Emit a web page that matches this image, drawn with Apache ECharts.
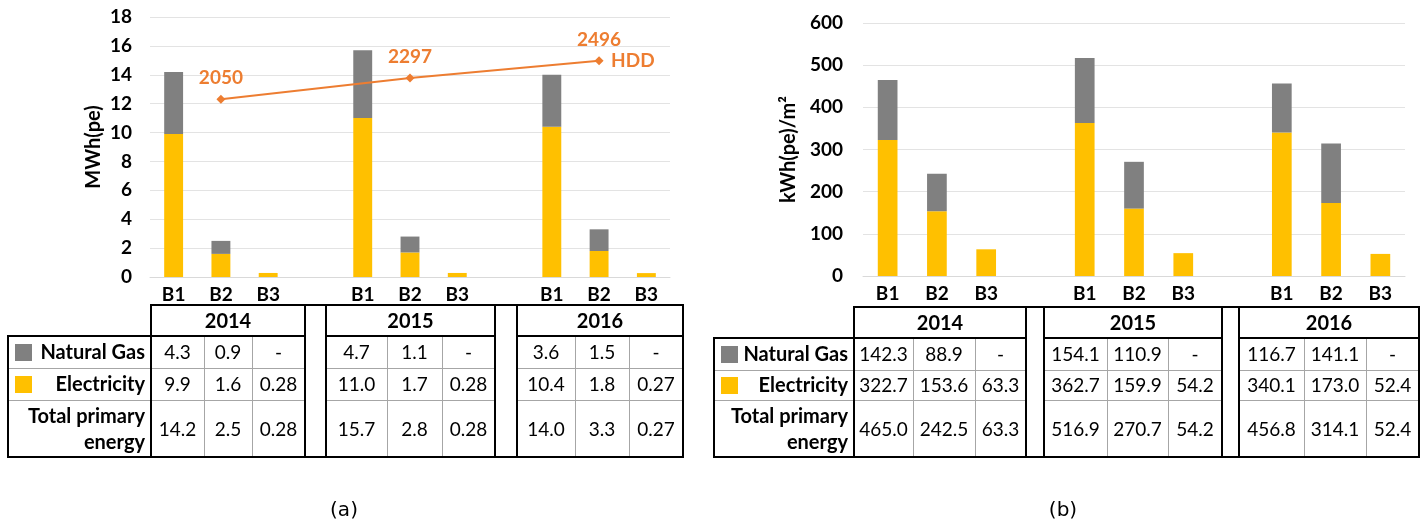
<!DOCTYPE html>
<html>
<head>
<meta charset="utf-8">
<script src="https://cdn.jsdelivr.net/npm/echarts@6/dist/echarts.min.js"></script>
<style>
  html, body { margin: 0; padding: 0; background: #fff; }
  #main { width: 1426px; height: 525px; }
</style>
</head>
<body>
<div id="main"></div>
<script>
// data
const categories = ['B1', 'B2', 'B3', '', 'B1', 'B2', 'B3', '', 'B1', 'B2', 'B3'];
const years = ['2014', '2015', '2016'];

// (a) MWh(pe), per year: B1, B2, B3
const gasA = [4.3, 0.9, null, 4.7, 1.1, null, 3.6, 1.5, null];
const elecA = [9.9, 1.6, 0.28, 11.0, 1.7, 0.28, 10.4, 1.8, 0.27];
const totalA = [14.2, 2.5, 0.28, 15.7, 2.8, 0.28, 14.0, 3.3, 0.27];
const hdd = [2050, 2297, 2496];

// (b) kWh(pe)/m2
const gasB = [142.3, 88.9, null, 154.1, 110.9, null, 116.7, 141.1, null];
const elecB = [322.7, 153.6, 63.3, 362.7, 159.9, 54.2, 340.1, 173.0, 52.4];
const totalB = [465.0, 242.5, 63.3, 516.9, 270.7, 54.2, 456.8, 314.1, 52.4];

const YELLOW = '#FFC000', GREY = '#808080', ORANGE = '#ED7D31';

// put the 9 values onto the 11 category slots (empty slot between years)
function spread(vals) {
    let out = [];
    for (let g = 0; g < 3; g++) {
        out = out.concat(vals.slice(g * 3, g * 3 + 3));
        if (g < 2) out.push(null);
    }
    return out;
}
function hddData() {
    return spread([null, hdd[0], null, null, hdd[1], null, null, hdd[2], null]);
}
// one decimal, two when the value has a second one (0.28)
function fmt(v) {
    if (v == null) return '-';
    return v.toFixed(Math.round(v * 100) % 10 !== 0 ? 2 : 1);
}

// table layout (pixel positions of the table under each panel)
const tableA = { labelLeft: 8, boxes: [[151, 204, 252, 305], [326, 387, 442, 495], [517, 575, 629, 683]],
    top: 305, head: 336, r1: 368, r2: 400, bottom: 457 };
const tableB = { labelLeft: 714, boxes: [[854, 913, 975, 1026], [1044, 1107, 1168, 1222], [1239, 1304, 1366, 1419]],
    top: 307, head: 338, r1: 370, r2: 400, bottom: 457 };

function buildTable(t, gas, elec, total) {
    let els = [];
    const thick = { stroke: '#000', lineWidth: 2 };
    const thin = { stroke: '#a6a6a6', lineWidth: 1 };
    const line = (x1, y1, x2, y2, st) => els.push({ type: 'line', silent: true, z: 10,
        shape: { x1: x1, y1: y1, x2: x2, y2: y2 }, style: st });
    const text = (x, y, s, bold, align) => els.push({ type: 'text', silent: true, z: 11, x: x, y: y,
        style: { text: s, fill: '#000', font: (bold ? 'bold 20px' : '19px') + ' Lato',
            align: align || 'center', verticalAlign: 'middle', lineHeight: 26 } });
    const first = t.boxes[0][0], last = t.boxes[2][3];
    const rows = [t.head, t.r1, t.r2, t.bottom];

    // thin inner lines
    line(t.labelLeft, t.r1 + 0.5, first, t.r1 + 0.5, thin);
    line(t.labelLeft, t.r2 + 0.5, first, t.r2 + 0.5, thin);
    t.boxes.forEach(b => {
        line(b[0], t.r1 + 0.5, b[3], t.r1 + 0.5, thin);
        line(b[0], t.r2 + 0.5, b[3], t.r2 + 0.5, thin);
        line(b[1] + 0.5, t.head, b[1] + 0.5, t.bottom, thin);
        line(b[2] + 0.5, t.head, b[2] + 0.5, t.bottom, thin);
    });
    // thick borders
    line(first - 1, t.top, last + 1, t.top, thick);
    line(t.labelLeft - 1, t.bottom, last + 1, t.bottom, thick);
    line(t.labelLeft, t.head, t.labelLeft, t.bottom, thick);
    line(t.labelLeft - 1, t.head, first, t.head, thick);
    t.boxes.forEach((b, g) => {
        line(b[0], t.top, b[0], t.bottom, thick);
        line(b[3], t.top, b[3], t.bottom, thick);
        line(b[0], t.head, b[3], t.head, thick);
        text((b[0] + b[3]) / 2, (t.top + t.head) / 2 + 1, years[g], true);
        [gas, elec, total].forEach((arr, r) => {
            for (let k = 0; k < 3; k++) {
                text((b[k] + b[k + 1]) / 2, (rows[r] + rows[r + 1]) / 2 + 1, fmt(arr[g * 3 + k]), false);
            }
        });
    });
    // row labels with colour keys
    const lx = first - 6;
    text(lx, (t.head + t.r1) / 2 + 1, 'Natural Gas', true, 'right');
    text(lx, (t.r1 + t.r2) / 2 + 1, 'Electricity', true, 'right');
    text(lx, (t.r2 + t.bottom) / 2 + 1, 'Total primary\nenergy', true, 'right');
    els.push({ type: 'rect', silent: true, z: 11, shape: { x: t.labelLeft + 7, y: (t.head + t.r1) / 2 - 8, width: 17, height: 17 }, style: { fill: GREY } });
    els.push({ type: 'rect', silent: true, z: 11, shape: { x: t.labelLeft + 7, y: (t.r1 + t.r2) / 2 - 8, width: 17, height: 17 }, style: { fill: YELLOW } });
    return els;
}

function xAxisOf(grid) {
    return {
        gridIndex: grid, type: 'category', data: categories,
        axisLine: { lineStyle: { color: '#d9d9d9' } },
        axisTick: { show: false },
        axisLabel: { interval: 0, fontFamily: 'Lato', fontWeight: 'bold', fontSize: 19, color: '#000', margin: 8 }
    };
}
const yLabel = { fontFamily: 'Lato', fontWeight: 'bold', fontSize: 19, color: '#000' };
const yName = { fontFamily: 'Lato', fontWeight: 'bold', fontSize: 20, color: '#000' };

let myChart,
option = {
    animation: false,
    textStyle: { fontFamily: 'Lato' },
    grid: [
        { left: 150, top: 17, width: 520, height: 260 },
        { left: 863, top: 23, width: 542, height: 253 }
    ],
    xAxis: [xAxisOf(0), xAxisOf(1)],
    yAxis: [
        {
            gridIndex: 0, type: 'value', min: 0, max: 18, interval: 2,
            name: 'MWh(pe)', nameLocation: 'middle', nameGap: 46,
            nameTextStyle: yName,
            axisLabel: Object.assign({ margin: 18 }, yLabel),
            splitLine: { lineStyle: { color: '#e3e3e3' } }
        },
        { gridIndex: 0, type: 'value', min: 0, max: 3000, show: false },   // HDD
        {
            gridIndex: 1, type: 'value', min: 0, max: 600, interval: 100,
            name: 'kWh(pe)/m²', nameLocation: 'middle', nameGap: 64,
            nameTextStyle: yName,
            axisLabel: Object.assign({ margin: 20 }, yLabel),
            splitLine: { lineStyle: { color: '#e3e3e3' } }
        }
    ],
    series: [
        { name: 'Electricity', type: 'bar', stack: 'a', xAxisIndex: 0, yAxisIndex: 0, barWidth: '40%',
          data: spread(elecA), itemStyle: { color: YELLOW } },
        { name: 'Natural Gas', type: 'bar', stack: 'a', xAxisIndex: 0, yAxisIndex: 0, barWidth: '40%',
          data: spread(gasA), itemStyle: { color: GREY } },
        { name: 'HDD', type: 'line', xAxisIndex: 0, yAxisIndex: 1, data: hddData(), connectNulls: true,
          symbol: 'diamond', symbolSize: 9,
          lineStyle: { color: ORANGE, width: 2 }, itemStyle: { color: ORANGE },
          label: { show: true, position: 'top', distance: 7, color: ORANGE, fontWeight: 'bold', fontSize: 19, fontFamily: 'Lato' },
          endLabel: { show: true, formatter: '{a}', distance: 12, color: ORANGE, fontWeight: 'bold', fontSize: 19, fontFamily: 'Lato' } },
        { name: 'Electricity', type: 'bar', stack: 'b', xAxisIndex: 1, yAxisIndex: 2, barWidth: '40%',
          data: spread(elecB), itemStyle: { color: YELLOW } },
        { name: 'Natural Gas', type: 'bar', stack: 'b', xAxisIndex: 1, yAxisIndex: 2, barWidth: '40%',
          data: spread(gasB), itemStyle: { color: GREY } }
    ],
    graphic: buildTable(tableA, gasA, elecA, totalA)
        .concat(buildTable(tableB, gasB, elecB, totalB))
        .concat([
            { type: 'text', x: 344, y: 511, silent: true, style: { text: '(a)', font: '20px "DejaVu Sans"', fill: '#000', align: 'center', verticalAlign: 'middle' } },
            { type: 'text', x: 1063, y: 511, silent: true, style: { text: '(b)', font: '20px "DejaVu Sans"', fill: '#000', align: 'center', verticalAlign: 'middle' } }
        ])
};

myChart = echarts.init(document.getElementById('main'));
myChart.setOption(option);
</script>
</body>
</html>
